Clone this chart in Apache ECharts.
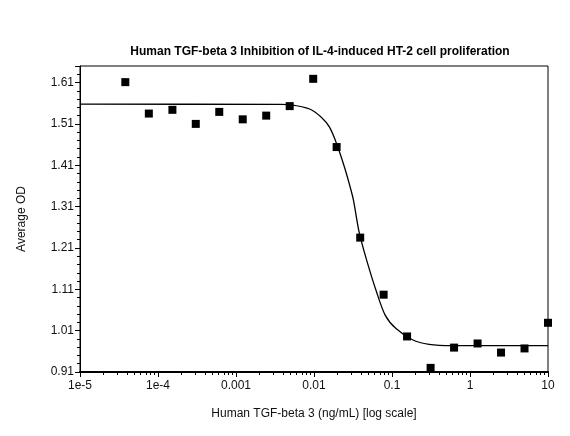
<!DOCTYPE html>
<html>
<head>
<meta charset="utf-8">
<script src="https://cdn.jsdelivr.net/npm/echarts@6/dist/echarts.min.js"></script>
<style>
  html, body { margin: 0; padding: 0; background: #fff; }
  #chart { width: 570px; height: 436px; }
</style>
</head>
<body>
<div id="chart"></div>
<script>
// concentration (ng/mL), 2-fold dilution from 10
var conc = [3.81e-5, 7.63e-5, 1.53e-4, 3.05e-4, 6.1e-4, 1.22e-3, 2.44e-3, 4.88e-3,
            9.77e-3, 0.0195, 0.0391, 0.0781, 0.156, 0.3125, 0.625, 1.25, 2.5, 5, 10];
// measured average OD
var od = [1.611, 1.535, 1.544, 1.510, 1.539, 1.521, 1.530, 1.553,
          1.619, 1.454, 1.235, 1.097, 0.996, 0.920, 0.969, 0.979, 0.957, 0.967, 1.029];

// fitted curve, points
var fitX = [1e-5, 3.64e-3, 5.02e-3, 8.79e-3, 0.0124, 0.0158, 0.0195, 0.0246, 0.0299,
            0.0321, 0.0382, 0.0474, 0.0625, 0.082, 0.1125, 0.183, 0.299, 0.594, 10];
var fitY = [1.558, 1.557, 1.556, 1.546, 1.526, 1.502, 1.462, 1.405, 1.349,
            1.325, 1.245, 1.180, 1.107, 1.047, 1.015, 0.988, 0.977, 0.974, 0.974];

// x tick labels
var xLabels = {'-5': '1e-5', '-4': '1e-4', '-3': '0.001', '-2': '0.01', '-1': '0.1', '0': '1', '1': '10'};

var chart = echarts.init(document.getElementById('chart'));

var points = conc.map(function (c, i) { return [c, od[i]]; });
var fit = fitX.map(function (x, i) { return [x, fitY[i]]; });

var option = {
    animation: false,
    title: {
        text: 'Human TGF-beta 3 Inhibition of IL-4-induced HT-2 cell proliferation',
        left: 315,
        textAlign: 'center',
        top: 41,
        textStyle: { fontFamily: 'Liberation Sans', fontSize: 12, fontWeight: 'bold', color: '#000' }
    },
    grid: {
        left: 80, right: 22, top: 66, bottom: 64,
        show: true, borderColor: '#000', borderWidth: 1
    },
    xAxis: {
        type: 'log',
        logBase: 10,
        min: 1e-5,
        max: 10,
        name: 'Human TGF-beta 3 (ng/mL) [log scale]',
        nameLocation: 'middle',
        nameGap: 36,
        nameTextStyle: { fontFamily: 'Liberation Sans', fontSize: 12, color: '#111' },
        axisLine: { lineStyle: { color: '#000', width: 2 } },
        axisTick: { length: 5, lineStyle: { color: '#000' } },
        minorTick: { show: true, splitNumber: 9, length: 3, lineStyle: { color: '#000' } },
        splitLine: { show: false },
        axisLabel: {
            fontFamily: 'Liberation Sans', fontSize: 12, color: '#111', margin: 8,
            formatter: function (v) {
                var k = Math.round(Math.log10(v));
                return xLabels[String(k)] || '';
            }
        }
    },
    yAxis: {
        type: 'value',
        min: 0.91,
        max: 1.65,
        interval: 0.1,
        name: 'Average OD',
        nameLocation: 'middle',
        nameGap: 52,
        nameTextStyle: { fontFamily: 'Liberation Sans', fontSize: 12, color: '#111' },
        axisLine: { show: true, lineStyle: { color: '#000', width: 1 } },
        axisTick: { length: 5, lineStyle: { color: '#000' } },
        minorTick: { show: true, splitNumber: 5, length: 3, lineStyle: { color: '#000' } },
        splitLine: { show: false },
        axisLabel: {
            fontFamily: 'Liberation Sans', fontSize: 12, color: '#111', margin: 6,
            showMaxLabel: false,
            formatter: function (v) { return v.toFixed(2); }
        }
    },
    series: [
        {
            name: 'fit',
            type: 'line',
            data: fit,
            smooth: 0.3,
            showSymbol: false,
            lineStyle: { color: '#000', width: 1.3 },
            z: 2
        },
        {
            name: 'OD',
            type: 'scatter',
            data: points,
            symbol: 'rect',
            symbolSize: 8,
            itemStyle: { color: '#000', opacity: 1 },
            z: 3
        }
    ]
};

chart.setOption(option);
</script>
</body>
</html>
